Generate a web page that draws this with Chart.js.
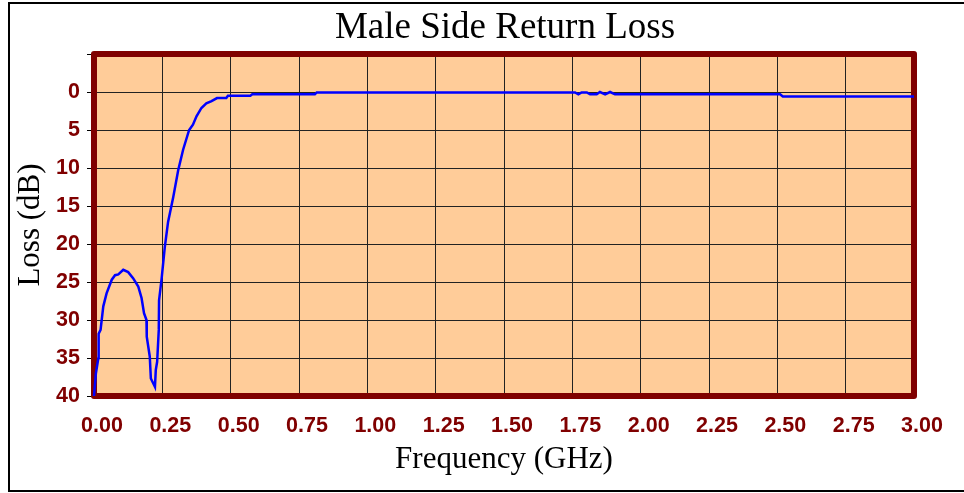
<!DOCTYPE html>
<html>
<head>
<meta charset="utf-8">
<script src="https://cdn.jsdelivr.net/npm/chart.js@4"></script>
<style>
  body { margin: 0; background: #fff; }
  canvas { display: block; }
</style>
</head>
<body>
<canvas id="rlChart" width="964" height="493"></canvas>
<script>
// frequency points (GHz) and return loss (dB)
const freqGHz = [0, 0.007, 0.016, 0.017, 0.024, 0.034, 0.046, 0.065, 0.077, 0.089, 0.107, 0.125, 0.143, 0.162, 0.174, 0.183, 0.192, 0.193, 0.204, 0.208, 0.223, 0.226, 0.231, 0.237, 0.238, 0.247, 0.259, 0.271, 0.290, 0.308, 0.326, 0.348, 0.362, 0.375, 0.393, 0.411, 0.430, 0.450, 0.484, 0.490, 0.572, 0.579, 0.808, 0.815, 1.760, 1.772, 1.784, 1.803, 1.815, 1.839, 1.851, 1.870, 1.888, 1.906, 2.510, 2.520, 3.0]
const lossDb = [40, 37, 35, 31.8, 31.3, 28.2, 26.5, 24.7, 24.1, 24.0, 23.4, 23.7, 24.5, 25.6, 27.1, 29.1, 30.0, 32.2, 34.8, 37.7, 38.8, 36.6, 35.5, 31.3, 27.4, 24.7, 20.4, 17.1, 13.8, 10.3, 7.6, 5.0, 4.3, 3.2, 2.1, 1.5, 1.2, 0.8, 0.8, 0.5, 0.5, 0.3, 0.3, 0.05, 0.05, 0.3, 0.05, 0.05, 0.3, 0.3, 0.0, 0.3, 0.0, 0.3, 0.3, 0.6, 0.6]

const xTicks = [0, 0.25, 0.5, 0.75, 1, 1.25, 1.5, 1.75, 2, 2.25, 2.5, 2.75, 3]
const yTicks = [-5, 0, 5, 10, 15, 20, 25, 30, 35, 40]
const chartTitle = 'Male Side Return Loss'

Chart.defaults.font.family = "'Liberation Sans', Arial, sans-serif"
const serif = "'Liberation Serif', 'Times New Roman', serif"

const points = freqGHz.map((f, i) => ({ x: f, y: lossDb[i] }))

// peach plot background, dark red frame round the plot, outer frame, title over the plot
const plotDeco = {
    id: 'plotDeco',
    beforeDraw(chart) {
        const { ctx, chartArea: a } = chart
        ctx.save()
        ctx.fillStyle = '#fff'
        ctx.fillRect(0, 0, chart.width, chart.height)
        ctx.fillStyle = '#FFCC99'
        ctx.fillRect(a.left, a.top, a.right - a.left, a.bottom - a.top)
        ctx.restore()
    },
    beforeDatasetsDraw(chart) {
        const { ctx, chartArea: a } = chart
        ctx.save()
        ctx.strokeStyle = '#800000'
        ctx.lineWidth = 6
        ctx.lineJoin = 'round'
        ctx.strokeRect(a.left, a.top, a.right - a.left, a.bottom - a.top)
        ctx.restore()
    },
    afterDraw(chart) {
        const { ctx, chartArea: a } = chart
        ctx.save()
        ctx.strokeStyle = '#000'
        ctx.lineWidth = 2
        ctx.strokeRect(9, 3, 962, 488)
        ctx.fillStyle = '#000'
        ctx.font = '37px ' + serif
        ctx.textAlign = 'center'
        ctx.textBaseline = 'alphabetic'
        ctx.fillText(chartTitle, (a.left + a.right) / 2 + 1, 37.5)
        ctx.restore()
    }
}

const ctx = document.getElementById('rlChart').getContext('2d')
const rlChart = new Chart(ctx, {
    type: 'line',
    data: {
        datasets: [{
            data: points,
            borderColor: '#0000FF',
            borderWidth: 2.5,
            pointRadius: 0,
            tension: 0,
            clip: false
        }]
    },
    options: {
        responsive: false,
        animation: false,
        layout: { padding: { left: 10, right: 50, top: 54, bottom: 5 } },
        plugins: {
            legend: { display: false },
            tooltip: { enabled: false },
            title: { display: false }
        },
        scales: {
            x: {
                type: 'linear',
                min: 0,
                max: 3,
                afterBuildTicks: (s) => { s.ticks = xTicks.map(v => ({ value: v })) },
                afterFit: (s) => { s.height = 92 },
                ticks: {
                    callback: (v) => v.toFixed(2),
                    color: '#800000',
                    font: { size: 21.5, weight: 'bold' },
                    padding: 17,
                    labelOffset: 8,
                    maxRotation: 0,
                    autoSkip: false
                },
                grid: { color: '#222', lineWidth: 1, drawTicks: false },
                border: { display: false },
                title: {
                    display: true,
                    text: 'Frequency (GHz)',
                    color: '#000',
                    font: { family: serif, size: 31, lineHeight: 1.2 },
                    padding: { top: 0, bottom: 9.4 }
                }
            },
            y: {
                reverse: true,
                min: -5,
                max: 40,
                afterBuildTicks: (s) => { s.ticks = yTicks.map(v => ({ value: v })) },
                afterFit: (s) => { s.width = 84 },
                ticks: {
                    callback: (v) => v < 0 ? '' : String(v),
                    color: '#800000',
                    font: { size: 21.5, weight: 'bold' },
                    padding: 7
                },
                grid: { color: '#222', lineWidth: 1, drawTicks: true, tickLength: 7, tickColor: '#000' },
                border: { display: false },
                title: {
                    display: true,
                    text: 'Loss (dB)',
                    color: '#000',
                    font: { family: serif, size: 31, lineHeight: 1.2 },
                    padding: { top: 2, bottom: 0 }
                }
            }
        }
    },
    plugins: [plotDeco]
})
</script>
</body>
</html>
